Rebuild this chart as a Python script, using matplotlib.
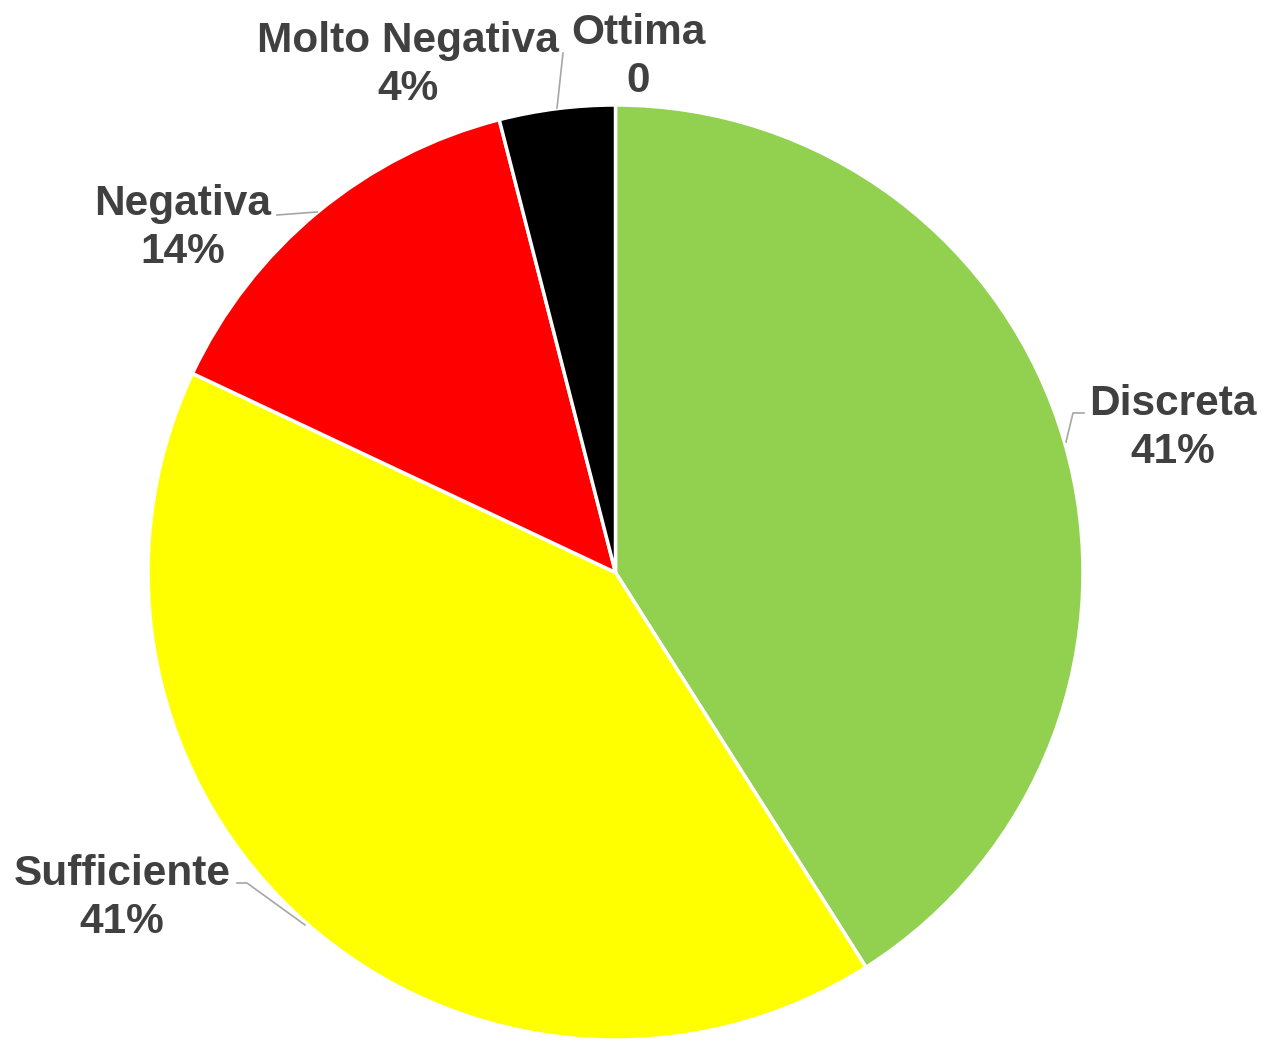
import matplotlib
matplotlib.use("Agg")
import matplotlib.pyplot as plt
from matplotlib.lines import Line2D

categories = ["Ottima", "Discreta", "Sufficiente", "Negativa", "Molto Negativa"]
values = [0, 41, 41, 14, 4]
value_labels = ["0", "41%", "41%", "14%", "4%"]
colors = ["#4472C4", "#92D050", "#FFFF00", "#FF0000", "#000000"]

W, H = 1268, 1045
fig = plt.figure(figsize=(W / 100, H / 100), dpi=100)
ax = fig.add_axes([0, 0, 1, 1])

ax.pie(values, colors=colors, startangle=90, counterclock=False, radius=1,
       wedgeprops=dict(edgecolor="white", linewidth=2.5))

cx, cy, R = 615.5, 572.5, 467.5
ax.set_aspect("equal")
ax.set_xlim((0 - cx) / R, (W - cx) / R)
ax.set_ylim((cy - H) / R, cy / R)
ax.axis("off")

def fx(px):
    return px / W

def fy(py):
    return 1 - py / H

# label layout: (center x, baseline line1, baseline line2) in pixels
label_pos = {
    "Ottima": (638, 44, 92),
    "Discreta": (1173, 415, 463),
    "Sufficiente": (122, 885, 933),
    "Negativa": (183, 215, 263),
    "Molto Negativa": (408, 52, 100),
}
leaders = {
    "Discreta": [(1066, 442), (1073, 413), (1084, 413)],
    "Sufficiente": [(237, 883), (247, 883), (305, 925)],
    "Negativa": [(277, 215), (317, 212)],
    "Molto Negativa": [(563, 53), (557, 108)],
}

font = dict(family=["Liberation Sans", "DejaVu Sans"], fontsize=30.5,
            fontweight="bold", color="#404040")
for cat, vl in zip(categories, value_labels):
    x, b1, b2 = label_pos[cat]
    fig.text(fx(x), fy(b1), cat, ha="center", va="baseline", **font)
    fig.text(fx(x), fy(b2), vl, ha="center", va="baseline", **font)
    if cat in leaders:
        pts = leaders[cat]
        fig.add_artist(Line2D([fx(p[0]) for p in pts], [fy(p[1]) for p in pts],
                              color="#A6A6A6", lw=1.2, transform=fig.transFigure))

fig.savefig("out.png", dpi=100)
